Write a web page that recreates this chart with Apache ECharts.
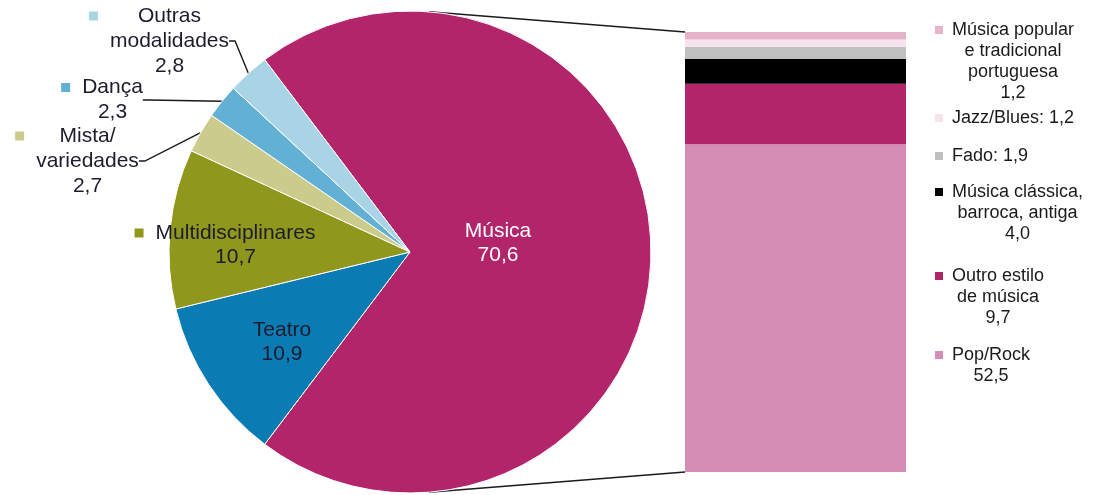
<!DOCTYPE html>
<html>
<head>
<meta charset="utf-8">
<script src="https://cdn.jsdelivr.net/npm/echarts@6/dist/echarts.min.js"></script>
<style>
  html, body { margin: 0; padding: 0; background: #ffffff; }
  #chart { width: 1095px; height: 495px; }
</style>
</head>
<body>
<div id="chart"></div>
<script>
// Share of performances by genre (%)
const genreNames = ['Música', 'Teatro', 'Multidisciplinares', 'Mista/\nvariedades', 'Dança', 'Outras\nmodalidades'];
const genreValues = [70.6, 10.9, 10.7, 2.7, 2.3, 2.8];
const genreColors = ['#b3256b', '#0b7bb3', '#8f971d', '#cbcb8c', '#62b0d4', '#a9d4e6'];

// Music broken down by style, stacked from the bottom of the bar upwards
const styleNames = ['Pop/Rock', 'Outro estilo\nde música', 'Música clássica,\nbarroca, antiga', 'Fado', 'Jazz/Blues', 'Música popular\ne tradicional\nportuguesa'];
const styleValues = [52.5, 9.7, 4.0, 1.9, 1.2, 1.2];
const styleColors = ['#d58db4', '#b3256b', '#000000', '#c0c0c0', '#f7e3eb', '#e7b3ca'];
const styleValueSep = ['\n', '\n', '\n', ': ', ': ', '\n'];

// Layout
const FONT = '"Liberation Sans", Arial, sans-serif';
const TEXT = '#1c1c2c';
const PIE = { cx: 410, cy: 252, r: 241 };
const BAR = { left: 685, top: 32, width: 221, height: 440 };
const genreLabelPos = [[498, 243], [282, 342], [225, 245], [77, 161], [102, 100], [159, 41]];
const legendMarkerX = 935;
const legendTextX = 952;
const legendFirstLineY = [355, 276, 192, 156, 118, 30];

const fmt = v => v.toFixed(1).replace('.', ',');
const genreTotal = genreValues.reduce((a, b) => a + b, 0);
const styleTotal = styleValues.reduce((a, b) => a + b, 0);

// Música is centred on the right-hand side, facing the bar
const startAngle = 90 + (genreValues[0] / genreTotal * 360 - 180) / 2;

function genreLabel(i) {
  const lines = (genreNames[i] + '\n' + fmt(genreValues[i])).split('\n');
  if (i < 2) return lines.map(l => '{c|' + l + '}').join('\n');
  return lines.map((l, k) => (k === 0 ? '{m|}' : '{e|}') + '{g|}{c|' + l + '}').join('\n');
}

function genreRich(i) {
  const lh = i < 3 ? 24 : 25;
  return {
    m: { width: 9, height: 9, backgroundColor: genreColors[i], align: 'left', verticalAlign: 'middle' },
    e: { width: 9, height: 9, align: 'left' },
    g: { width: 12, height: 9, align: 'left' },
    c: { align: 'center', fontSize: 21, lineHeight: lh, fontFamily: FONT, color: i === 0 ? '#ffffff' : TEXT }
  };
}

const chart = echarts.init(document.getElementById('chart'), null, { renderer: 'canvas' });

chart.setOption({
  animation: false,
  backgroundColor: '#ffffff',
  grid: { left: BAR.left, top: BAR.top, width: BAR.width, height: BAR.height, containLabel: false },
  xAxis: { type: 'category', data: ['Música'], show: false },
  yAxis: { type: 'value', min: 0, max: styleTotal, show: false },
  series: [
    {
      type: 'pie',
      center: [PIE.cx, PIE.cy],
      radius: PIE.r,
      startAngle: startAngle,
      clockwise: true,
      avoidLabelOverlap: false,
      itemStyle: { borderColor: '#ffffff', borderWidth: 1 },
      labelLine: { lineStyle: { color: '#1a1a1a', width: 1.4 }, length: 10, length2: 6 },
      labelLayout: function (params) {
        const p = genreLabelPos[params.dataIndex];
        return { x: p[0], y: p[1], align: 'center', verticalAlign: 'middle' };
      },
      data: genreNames.map((n, i) => ({
        name: n,
        value: genreValues[i],
        itemStyle: { color: genreColors[i] },
        label: {
          show: true,
          position: i < 3 ? 'inside' : 'outside',
          formatter: genreLabel(i),
          rich: genreRich(i)
        },
        labelLine: { show: i >= 3 }
      }))
    }
  ].concat(styleNames.map((n, i) => ({
    type: 'bar',
    name: n,
    stack: 'music',
    barWidth: '100%',
    itemStyle: { color: styleColors[i] },
    data: [styleValues[i]]
  })))
});

// Legend for the music styles
const graphics = [];
styleNames.forEach((n, i) => {
  const lines = (n + styleValueSep[i] + fmt(styleValues[i])).split('\n');
  graphics.push({
    type: 'rect',
    shape: { x: legendMarkerX, y: legendFirstLineY[i] - 4, width: 8, height: 8 },
    style: { fill: styleColors[i] }
  });
  graphics.push({
    type: 'text',
    x: legendTextX,
    y: legendFirstLineY[i] - 10.5,
    style: {
      text: lines.map(l => '{c|' + l + '}').join('\n'),
      align: 'left',
      verticalAlign: 'top',
      rich: { c: { align: 'center', fontSize: 18, lineHeight: 21, fontFamily: FONT, fill: '#1a1a1a' } }
    }
  });
});

// Connector lines: tangents from the bar's left corners to the pie
function tangentPoint(px, py, upper) {
  const dx = px - PIE.cx, dy = py - PIE.cy;
  const d = Math.sqrt(dx * dx + dy * dy);
  const base = Math.atan2(dy, dx);
  const off = Math.acos(PIE.r / d);
  const a = upper ? base - off : base + off;
  return [PIE.cx + PIE.r * Math.cos(a), PIE.cy + PIE.r * Math.sin(a)];
}
const barTopY = chart.convertToPixel({ yAxisIndex: 0 }, styleTotal);
const barBottomY = chart.convertToPixel({ yAxisIndex: 0 }, 0);
[[barTopY, true], [barBottomY, false]].forEach(([y, upper]) => {
  const t = tangentPoint(BAR.left, y, upper);
  graphics.push({
    type: 'line',
    shape: { x1: t[0], y1: t[1], x2: BAR.left, y2: y },
    style: { stroke: '#1a1a1a', lineWidth: 1.4 }
  });
});

chart.setOption({ graphic: graphics });
</script>
</body>
</html>
